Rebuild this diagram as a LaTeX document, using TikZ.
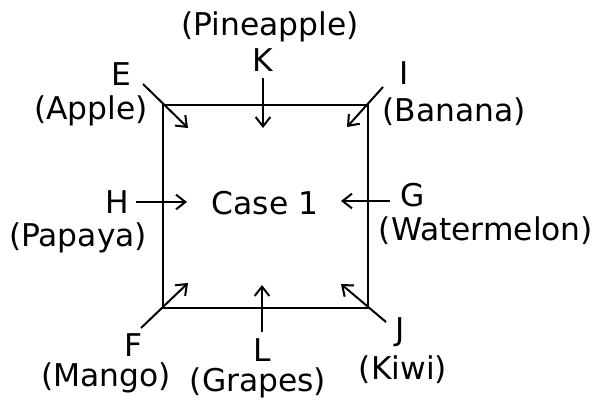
\documentclass[tikz,border=0pt]{standalone}
\usepackage{fontspec}
\setmainfont{DejaVu Sans}
\usetikzlibrary{arrows.meta,positioning}
\tikzset{
	caseBox/.style={rectangle,
		draw=black,
		line width=1.6pt,
		minimum width=153.75pt,
		minimum height=152.25pt,
		inner sep=0pt,
		},
	letter/.style={inner sep=0pt,
		text=black,
		},
	fruit/.style={inner sep=0pt,
		text=black,
		},
	every node/.style={font=\fontsize{23.5}{27}\selectfont},
	pointer/.style={-{Straight Barb[length=7pt,width=11pt]}, line width=1.5pt},
}
\begin{document}
\begin{tikzpicture}[x=0.75pt,y=-0.75pt]
	\useasboundingbox (0,0) rectangle (601,400);

	\node[caseBox] (case) at (265.5,206.5) {};
	\node (caseTxt) at (265,203) {Case 1};

	% labels round the case
	\node[fruit] (pine) at (270,27) {(Pineapple)};
	\node[letter] (kLab) at (263,60) {K};
	\node[letter] (eLab) at (121,74) {E};
	\node[fruit] (apple) at (91,111) {(Apple)};
	\node[letter] (iLab) at (404,73) {I};
	\node[fruit] (banana) at (454,112) {(Banana)};
	\node[letter] (hLab) at (117,202) {H};
	\node[fruit] (papaya) at (78,238) {(Papaya)};
	\node[letter] (gLab) at (413,195) {G};
	\node[fruit] (water) at (486,231) {(Watermelon)};
	\node[letter] (fLab) at (134,345) {F};
	\node[fruit] (mango) at (106,378) {(Mango)};
	\node[letter] (lLab) at (262,350) {L};
	\node[fruit] (grapes) at (258,383) {(Grapes)};
	\node[letter] (jLab) at (400,332) {J};
	\node[fruit] (kiwi) at (403,370) {(Kiwi)};

	% arrow ends
	\coordinate (kFrom) at (263,78);  \coordinate (kTo) at (263,128);
	\coordinate (eFrom) at (143,84);  \coordinate (eTo) at (188,128);
	\coordinate (iFrom) at (383,87);  \coordinate (iTo) at (347,127);
	\coordinate (hFrom) at (136,202); \coordinate (hTo) at (187,202);
	\coordinate (gFrom) at (390,201); \coordinate (gTo) at (341,201);
	\coordinate (fFrom) at (141,328); \coordinate (fTo) at (188,283);
	\coordinate (lFrom) at (262,332); \coordinate (lTo) at (262,285);
	\coordinate (jFrom) at (386,322); \coordinate (jTo) at (341,284);

	\foreach \p in {k,e,i,h,g,f,l,j}
		\draw[pointer] (\p From) -- (\p To);
\end{tikzpicture}
\end{document}
